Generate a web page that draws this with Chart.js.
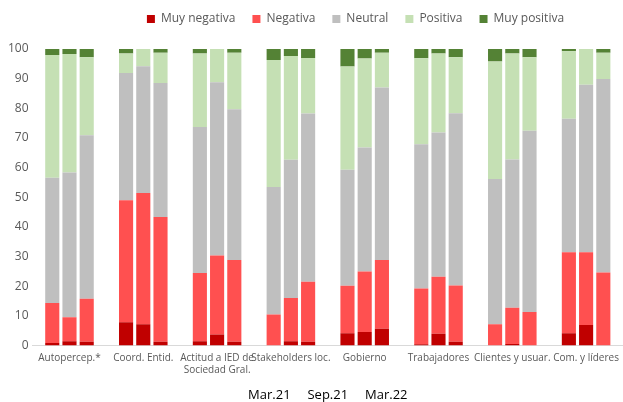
<!DOCTYPE html>
<html>
<head>
<meta charset="utf-8">
<script src="https://cdn.jsdelivr.net/npm/chart.js@4.4.1/dist/chart.umd.min.js"></script>
<style>
  html, body { margin: 0; padding: 0; background: #fff; }
  #wrap { width: 623px; height: 402px; }
</style>
</head>
<body>
<div id="wrap"><canvas id="chart"></canvas></div>
<script>
// categories and periods
var categories = ['Autopercep.*', 'Coord. Entid.', ['Actitud a IED de', 'Sociedad Gral.'], 'Stakeholders loc.',
    'Gobierno', 'Trabajadores', 'Clientes y usuar.', 'Com. y líderes'];
var periods = ['Mar.21', 'Sep.21', 'Mar.22'];
var levels = ['Muy negativa', 'Negativa', 'Neutral', 'Positiva', 'Muy positiva'];

// one row per period (Mar.21, Sep.21, Mar.22)
var muyNegativa = [
    [0.8, 7.8, 1.4, 0, 4.1, 0.4, 0, 4.1],
    [1.4, 7.1, 3.7, 1.4, 4.5, 3.9, 0.5, 6.9],
    [1.2, 1.2, 1.2, 1.2, 5.6, 1.2, 0, 0]
];
var negativa = [
    [13.5, 41.2, 23, 10.4, 16, 18.8, 7.1, 27.3],
    [8.1, 44.3, 26.6, 14.6, 20.4, 19.3, 12.2, 24.5],
    [14.5, 42.1, 27.6, 20.3, 23.2, 19, 11.3, 24.6]
];
var neutral = [
    [42.3, 42.9, 49.3, 43, 39.2, 48.7, 49, 45.1],
    [48.8, 42.8, 58.5, 46.6, 41.9, 48.6, 50, 56.5],
    [55.2, 45.2, 50.9, 56.7, 58.2, 58.1, 61.1, 65.3]
];
var positiva = [
    [41.4, 6.6, 24.8, 42.9, 34.8, 29, 39.7, 22.7],
    [40, 5.8, 11.2, 35, 30, 26.7, 35.8, 12.1],
    [26.3, 10.2, 19, 18.8, 11.7, 18.9, 24.8, 8.8]
];
var muyPositiva = [
    [2, 1.5, 1.5, 3.7, 5.9, 3.1, 4.2, 0.8],
    [1.7, 0, 0, 2.4, 3.2, 1.5, 1.5, 0],
    [2.8, 1.3, 1.3, 3, 1.3, 2.8, 2.8, 1.3]
];

var series = [muyNegativa, negativa, neutral, positiva, muyPositiva];
var colors = ['#C00000', '#FF5050', '#BFBFBF', '#C5E0B4', '#548235'];

var datasets = [];
periods.forEach(function (p, pi) {
    levels.forEach(function (lv, li) {
        datasets.push({
            label: lv,
            data: series[li][pi],
            backgroundColor: colors[li],
            stack: p,
            barPercentage: 0.82,
            categoryPercentage: 0.7
        });
    });
});

// extra room under the legend, and legend nudged right like the original
var legendTweak = {
    id: 'legendTweak',
    beforeInit: function (chart) {
        var fit = chart.legend.fit;
        chart.legend.fit = function () {
            fit.call(this);
            this.height += 14;
        };
    },
    afterLayout: function (chart) {
        chart.legend.left += 40;
        chart.legend.right += 40;
    }
};

var ctx = document.getElementById('chart');
new Chart(ctx, {
    type: 'bar',
    data: { labels: categories, datasets: datasets },
    options: {
        responsive: true,
        maintainAspectRatio: false,
        animation: false,
        layout: { autoPadding: false, padding: { left: 4, right: -4, top: -4, bottom: -1 } },
        plugins: {
            legend: {
                position: 'top',
                labels: {
                    boxWidth: 8,
                    boxHeight: 8,
                    padding: 17,
                    color: '#595959',
                    font: { family: 'Open Sans', size: 12 },
                    filter: function (item) { return item.datasetIndex < 5; }
                }
            },
            tooltip: { enabled: false }
        },
        scales: {
            x: {
                stacked: true,
                grid: { display: false, drawTicks: false },
                border: { display: true, color: '#D9D9D9' },
                afterFit: function (scale) {
                    scale.paddingLeft = 0;
                    scale.paddingRight = 0;
                },
                ticks: {
                    color: '#595959',
                    font: { family: 'Open Sans', size: 10 },
                    maxRotation: 0,
                    autoSkip: false,
                    padding: 7
                },
                title: {
                    display: true,
                    text: 'Mar.21     Sep.21     Mar.22',
                    color: '#000',
                    font: { family: 'Open Sans', size: 13 },
                    padding: { top: 4, bottom: 0 }
                }
            },
            y: {
                stacked: true,
                min: 0,
                max: 100,
                grid: { display: false, drawTicks: false },
                border: { display: false },
                ticks: {
                    stepSize: 10,
                    color: '#595959',
                    font: { family: 'Open Sans', size: 12 },
                    padding: 4
                }
            }
        }
    },
    plugins: [legendTweak]
});
</script>
</body>
</html>
